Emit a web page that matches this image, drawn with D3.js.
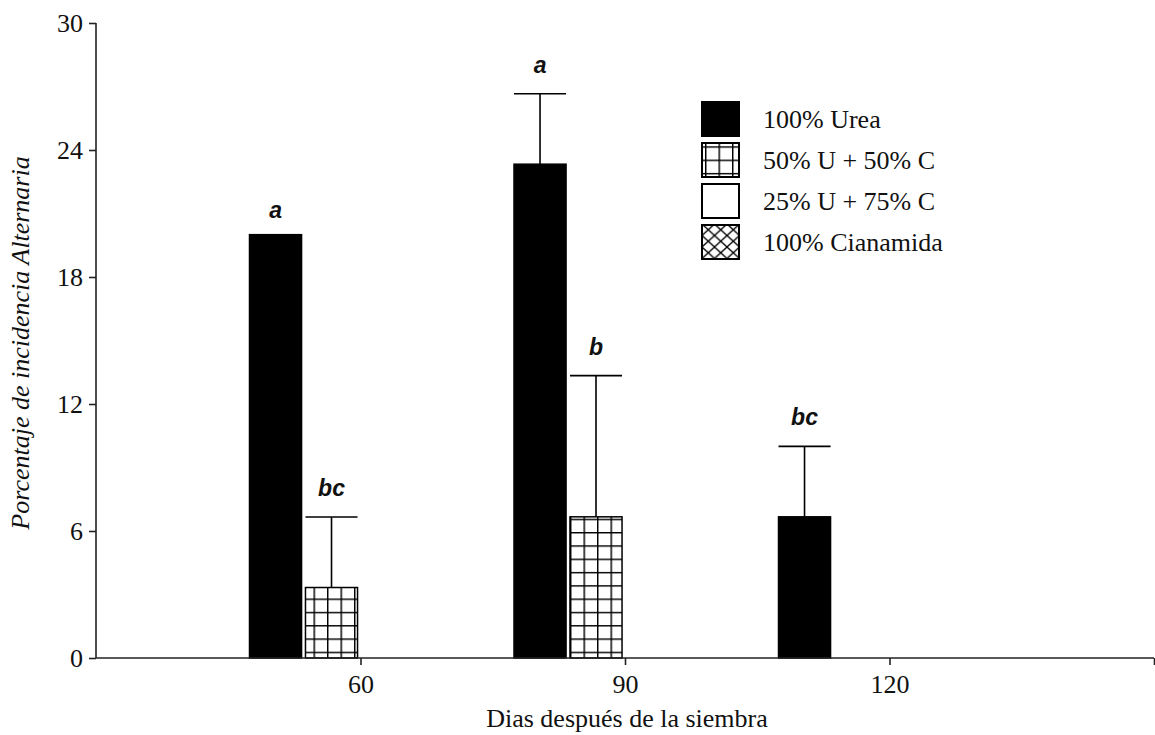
<!DOCTYPE html>
<html>
<head>
<meta charset="utf-8">
<script src="https://cdn.jsdelivr.net/npm/d3@7/dist/d3.min.js"></script>
<style>
  html, body { margin: 0; padding: 0; background: #fff; }
  svg { display: block; }
</style>
</head>
<body>
<svg id="chart" width="1155" height="735"></svg>
<script>
// Days after sowing (x categories)
const days = [60, 90, 120];
// Treatments
const series = ["100% Urea", "50% U + 50% C", "25% U + 75% C", "100% Cianamida"];
// Mean incidence (%) per treatment, per day
const urea      = [20, 23.33, 6.67];
const mix5050   = [3.33, 6.67, 0];
const mix2575   = [0, 0, 0];
const cianamida = [0, 0, 0];
// Standard errors (drawn upward only)
const ureaErr      = [0, 3.33, 3.33];
const mix5050Err   = [3.33, 6.67, 0];
const mix2575Err   = [0, 0, 0];
const cianamidaErr = [0, 0, 0];
// Significance letters
const ureaLetters      = ["a", "a", "bc"];
const mix5050Letters   = ["bc", "b", ""];
const mix2575Letters   = ["", "", ""];
const cianamidaLetters = ["", "", ""];
// Axis ticks
const yTicks = [0, 6, 12, 18, 24, 30];
const xTicks = [60, 90, 120];

const values  = [urea, mix5050, mix2575, cianamida];
const errors  = [ureaErr, mix5050Err, mix2575Err, cianamidaErr];
const letters = [ureaLetters, mix5050Letters, mix2575Letters, cianamidaLetters];
const fills   = ["#000", "url(#grid)", "#fff", "url(#cross)"];

const rows = [];
days.forEach((d, i) => series.forEach((s, j) => rows.push({
  day: d, s, j, v: values[j][i], e: errors[j][i], lab: letters[j][i]
})));

const svg = d3.select("#chart");
const serif = "'Liberation Serif', 'Times New Roman', serif";
const sans = "'Liberation Sans', Arial, sans-serif";

const x = d3.scaleLinear().domain([30, 150]).range([96, 1154]);
const y = d3.scaleLinear().domain([0, 30]).range([658, 23]);
// Offsets of the four bars inside a day group
const inner = d3.scaleBand().domain(series).range([-111, 109]).paddingInner(0.07);

// Patterns
const defs = svg.append("defs");
const g1 = defs.append("pattern").attr("id", "grid")
  .attr("patternUnits", "userSpaceOnUse").attr("width", 13.5).attr("height", 13.3)
  .attr("x", 570).attr("y", 0);
g1.append("rect").attr("width", 13.5).attr("height", 13.3).attr("fill", "#fff");
g1.append("path").attr("d", "M0.7,0V13.3M0,0.7H13.5").attr("stroke", "#000").attr("stroke-width", 1.5);

const g2 = defs.append("pattern").attr("id", "cross")
  .attr("patternUnits", "userSpaceOnUse").attr("width", 12.5).attr("height", 11.5)
  .attr("x", 702).attr("y", 224);
g2.append("rect").attr("width", 12.5).attr("height", 11.5).attr("fill", "#fff");
g2.append("path").attr("d", "M0,0L12.5,11.5M12.5,0L0,11.5").attr("stroke", "#000").attr("stroke-width", 1.3);

// Bars
const bars = rows.filter(r => r.v > 0);
svg.append("g").selectAll("rect").data(bars).join("rect")
  .attr("x", r => x(r.day) + inner(r.s))
  .attr("y", r => y(r.v))
  .attr("width", inner.bandwidth())
  .attr("height", r => y(0) - y(r.v))
  .attr("fill", r => fills[r.j])
  .attr("stroke", "#000").attr("stroke-width", 1.5);

// Error bars (upper half only)
const eb = svg.append("g").attr("stroke", "#000").attr("stroke-width", 1.6);
rows.filter(r => r.e > 0).forEach(r => {
  const cx = x(r.day) + inner(r.s) + inner.bandwidth() / 2;
  eb.append("line").attr("x1", cx).attr("x2", cx).attr("y1", y(r.v)).attr("y2", y(r.v + r.e));
  eb.append("line").attr("x1", cx - inner.bandwidth() / 2).attr("x2", cx + inner.bandwidth() / 2)
    .attr("y1", y(r.v + r.e)).attr("y2", y(r.v + r.e));
});

// Significance letters
svg.append("g").selectAll("text").data(rows.filter(r => r.lab)).join("text")
  .attr("x", r => x(r.day) + inner(r.s) + inner.bandwidth() / 2)
  .attr("y", r => y(r.v + r.e) - (r.e > 0 ? 21 : 17))
  .attr("text-anchor", "middle")
  .attr("font-family", sans).attr("font-weight", "bold").attr("font-style", "italic")
  .attr("font-size", 23).attr("fill", "#111")
  .text(r => r.lab);

// Y axis
const yAxis = svg.append("g").attr("transform", "translate(96,0)")
  .call(d3.axisLeft(y).tickValues(yTicks).tickSize(7).tickPadding(6));
// X axis
const xAxis = svg.append("g").attr("transform", "translate(0,658)")
  .call(d3.axisBottom(x).tickValues(xTicks.concat([150])).tickSize(7).tickPadding(10)
    .tickFormat(d => xTicks.includes(d) ? d : ""));
[yAxis, xAxis].forEach(a => {
  a.select(".domain").attr("stroke", "#222").attr("stroke-width", 1.6);
  a.selectAll(".tick line").attr("stroke", "#222").attr("stroke-width", 1.6);
  a.selectAll("text").attr("font-family", serif).attr("font-size", 26).attr("fill", "#111");
});
xAxis.select(".domain").attr("d", "M96,0H1154");
yAxis.select(".domain").attr("d", "M0,658V23");

// Axis titles
svg.append("text")
  .attr("transform", "translate(29,343) rotate(-90)")
  .attr("text-anchor", "middle")
  .attr("font-family", serif).attr("font-style", "italic").attr("font-size", 26).attr("fill", "#111")
  .text("Porcentaje de incidencia Alternaria");
svg.append("text")
  .attr("x", 627).attr("y", 727)
  .attr("text-anchor", "middle")
  .attr("font-family", serif).attr("font-size", 26).attr("fill", "#111")
  .text("Dias después de la siembra");

// Legend
const leg = svg.append("g");
series.forEach((s, j) => {
  const ly = 102 + j * 41;
  leg.append("rect").attr("x", 702).attr("y", ly).attr("width", 37).attr("height", 34)
    .attr("fill", fills[j]).attr("stroke", "#000").attr("stroke-width", 2);
  leg.append("text").attr("x", 763).attr("y", ly + 26)
    .attr("font-family", serif).attr("font-size", 26).attr("fill", "#111").text(s);
});
</script>
</body>
</html>
